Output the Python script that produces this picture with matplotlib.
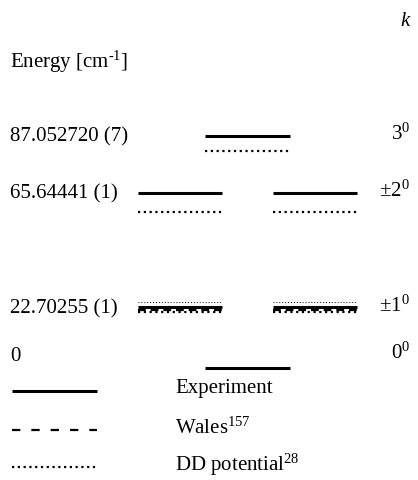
import numpy as np
import matplotlib
matplotlib.use("Agg")
import matplotlib.pyplot as plt

plt.rcParams['font.family'] = ['Liberation Serif', 'DejaVu Serif']
plt.rcParams['mathtext.fontset'] = 'custom'
plt.rcParams['mathtext.rm'] = 'Liberation Serif'
plt.rcParams['mathtext.it'] = 'Liberation Serif:italic'

# level data [cm-1]
k_labels   = ['3$^0$', '$\\pm$2$^0$', '$\\pm$1$^0$', '0$^0$']
exp_energy = [87.052720, 65.64441, 22.70255, 0.0]
exp_labels = ['87.052720 (7)', '65.64441 (1)', '22.70255 (1)', '0']
dd_energy  = [81.3, 58.4, 21.0, None]       # DD potential
dd_upper   = [None, None, 24.6, None]       # faint extra dotted row at +-1
wales_energy = [None, None, 21.7, None]     # Wales only shown at +-1
legend_names = ['Experiment', 'Wales$^{157}$', 'DD potential$^{28}$']

# horizontal spans of the level bars (pixels); single centre bar for k=0,3
spans_single = [(205, 290)]
spans_pair   = [(138, 222), (273, 357)]

px_per_unit = 2.67
y_zero = 369.0
W, H = 418, 481

fig = plt.figure(figsize=(W / 100, H / 100), dpi=100)
ax = fig.add_axes([0, 0, 1, 1])
ax.set_xlim(0, W)
ax.set_ylim((y_zero - H) / px_per_unit, y_zero / px_per_unit)
ax.axis('off')

solid = dict(color='black', lw=2.2, solid_capstyle='butt')
dotted = dict(color='black', lw=1.6, linestyle=(0, (1, 1.6)), dash_capstyle='butt')
dashed = dict(color='black', lw=1.6, linestyle=(0, (3.5, 2.2)), dash_capstyle='butt')

fs = 15
for i, E in enumerate(exp_energy):
    spans = spans_single if i in (0, 3) else spans_pair
    for x0, x1 in spans:
        ax.plot([x0, x1], [E, E], **solid)
        if dd_energy[i] is not None:
            ax.plot([x0, x1], [dd_energy[i]] * 2, **dotted)
        if dd_upper[i] is not None:
            ax.plot([x0, x1], [dd_upper[i]] * 2, color='black', lw=0.7,
                    linestyle=(0, (1, 2)))
        if wales_energy[i] is not None:
            ax.plot([x0, x1], [wales_energy[i]] * 2, **dashed)
    # baseline a little below the bar, the zero label sits above its bar
    dy = 6.0 if i == 3 else -3.6
    ax.annotate(exp_labels[i], (10, E), xytext=(0, dy), textcoords='offset points',
                va='baseline', ha='left', fontsize=fs)
    ax.annotate(k_labels[i], (410, E), xytext=(0, dy + 1.5), textcoords='offset points',
                va='baseline', ha='right', fontsize=fs)

# overlay in pixel coordinates for header text and legend
ov = fig.add_axes([0, 0, 1, 1])
ov.set_xlim(0, W)
ov.set_ylim(H, 0)
ov.axis('off')
ov.text(400, 22, 'k', fontstyle='italic', fontsize=fs, ha='left', va='center')
ov.text(10, 62, 'Energy [cm$^{\\text{-}1}$]', fontsize=fs, ha='left', va='center')

leg_styles = [solid, dashed, dotted]
leg_y = [392, 431, 468]
for name, st, y in zip(legend_names, leg_styles, leg_y):
    if st is dashed:
        st = dict(st, linestyle=(0, (3.75, 4.95)))
    ov.plot([12, 97], [y, y], **st)
    ov.text(175, y - 3, name, fontsize=fs, ha='left', va='center')

fig.savefig('out.png', dpi=100)
